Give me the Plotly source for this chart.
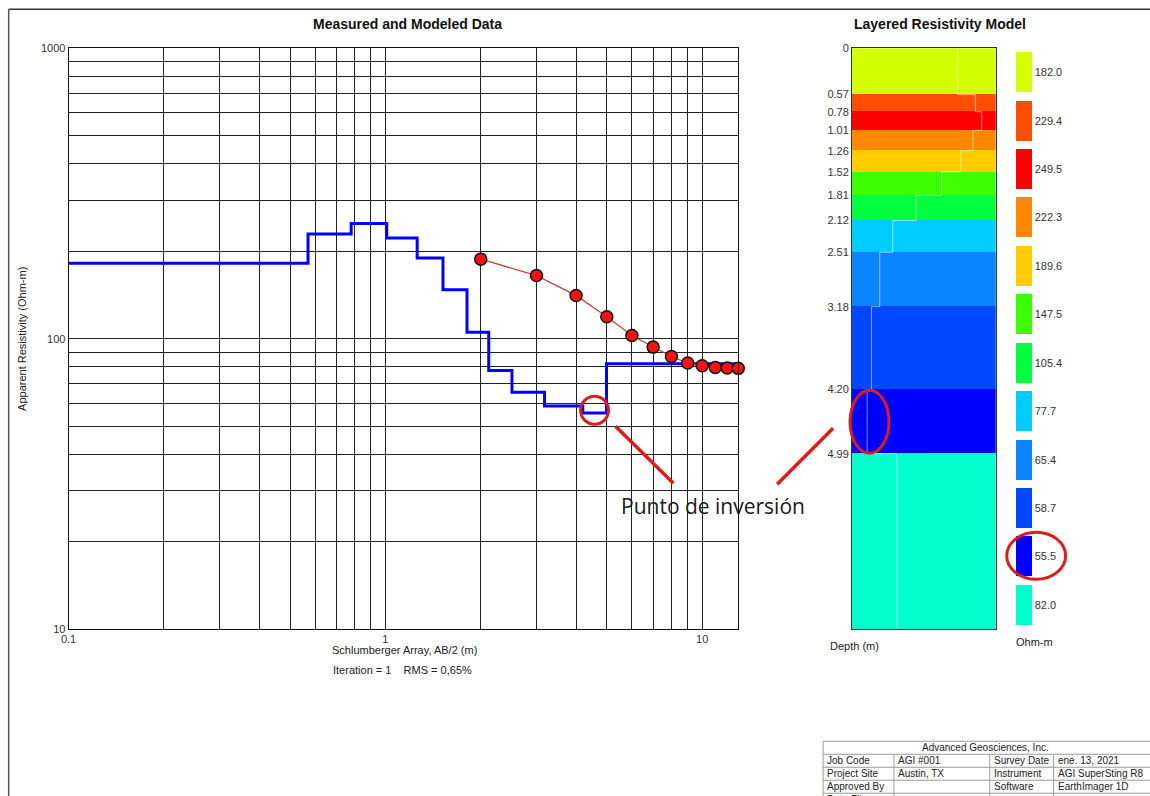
import math
import plotly.graph_objects as go

W, H = 1150, 796
# measured render correction (page px -> figure px)
AX, SX = 7.3, 0.995
AY, SY = 5.7, 0.985

# ---------------- data ----------------
# Layered model
layer_depths = [0.57, 0.78, 1.01, 1.26, 1.52, 1.81, 2.12, 2.51, 3.18, 4.20, 4.99]
layer_res = [182.0, 229.4, 249.5, 222.3, 189.6, 147.5, 105.4, 77.7, 65.4, 58.7, 55.5, 82.0]
layer_colors = ["#d4ff00", "#ff4d00", "#ff0000", "#ff8800", "#ffcc00", "#3cff00",
                "#00ff3c", "#00ccff", "#0a84ff", "#0048ff", "#0000ff", "#00ffcc"]
depth_bottom = 7.15

# Measured apparent resistivity
ab2 = [2, 3, 4, 5, 6, 7, 8, 9, 10, 11, 12, 13]
app_res = [188, 165, 141, 119, 102.6, 93.6, 86.9, 82.5, 80.8, 79.7, 79.3, 79.1]

x_min, x_max = 0.1, 13.0
y_min, y_max = 10, 1000

x_major = [0.1, 1, 10]
y_major = [10, 100, 1000]

table_rows = [
    ["Job Code", "AGI #001", "Survey Date", "ene. 13, 2021"],
    ["Project Site", "Austin, TX", "Instrument", "AGI SuperSting R8"],
    ["Approved By", "", "Software", "EarthImager 1D"],
    ["Data File", "", "", ""],
]


def px(x):
    return ((x - AX) / SX) / W


def py(y):
    return 1 - ((y - AY) / SY) / H


FONT = "Liberation Sans, Arial, sans-serif"

fig = go.Figure()

# ---------------- left chart ----------------
plot_l, plot_r, plot_t, plot_b = 68, 739, 48, 629

x_grid = []
for d in [0.1, 1, 10]:
    for m in range(1, 10):
        v = round(d * m, 3)
        if x_min <= v <= x_max:
            x_grid.append(v)
y_grid = []
for d in [10, 100]:
    for m in range(1, 10):
        y_grid.append(d * m)
y_grid.append(1000)


def fmt(v):
    return ("%g" % v)


step_x = [x_min] + layer_depths + [x_max]
step_y = layer_res + [layer_res[-1]]

fig.add_trace(go.Scatter(
    x=step_x, y=step_y, mode="lines", line=dict(color="#0000ff", width=3, shape="hv"),
    xaxis="x", yaxis="y", showlegend=False, hoverinfo="skip"))

fig.add_trace(go.Scatter(
    x=ab2, y=app_res, mode="lines+markers",
    line=dict(color="#c8413c", width=1.3),
    marker=dict(color="#ff1010", size=12, line=dict(color="#111111", width=1.5)),
    xaxis="x", yaxis="y", showlegend=False, cliponaxis=False))

# ---------------- layered model column ----------------
col_l, col_r = 853, 997
tops = [0] + layer_depths
bots = layer_depths + [depth_bottom]
mids = [(a + b) / 2 for a, b in zip(tops, bots)]
thick = [b - a for a, b in zip(tops, bots)]

fig.add_trace(go.Bar(
    x=[1] * len(layer_res), y=mids, width=thick, base=0, orientation="h",
    marker=dict(color=layer_colors, line=dict(width=0)),
    xaxis="x2", yaxis="y2", showlegend=False, hoverinfo="skip"))

fig.add_trace(go.Scatter(
    x=layer_res + [layer_res[-1]], y=[0] + layer_depths + [depth_bottom],
    mode="lines", line=dict(color="rgba(255,255,255,0.55)", width=1, shape="vh"),
    xaxis="x3", yaxis="y2", showlegend=False, hoverinfo="skip"))

# ---------------- colour legend ----------------
leg_l, leg_r = 1017, 1117
fig.add_trace(go.Bar(
    x=[1] * len(layer_res), y=list(range(len(layer_res))), orientation="h",
    width=0.826, marker=dict(color=layer_colors, line=dict(width=0)),
    text=["%.1f" % v for v in layer_res], textposition="outside",
    textfont=dict(family=FONT, size=11, color="#333333"),
    cliponaxis=False,
    xaxis="x4", yaxis="y4", showlegend=False, hoverinfo="skip"))

grid_col = "#222222"
tickfont = dict(family=FONT, size=11, color="#333333")

fig.update_layout(
    width=W, height=H, autosize=False,
    margin=dict(l=0, r=0, t=0, b=0),
    paper_bgcolor="white", plot_bgcolor="white",
    bargap=0,
    xaxis=dict(type="log", range=[math.log10(x_min), math.log10(x_max)],
               domain=[px(plot_l), px(plot_r)], anchor="y",
               tickmode="array", tickvals=x_grid,
               ticktext=[fmt(v) if v in x_major else "" for v in x_grid],
               showgrid=True, gridcolor=grid_col, gridwidth=1,
               showline=True, linecolor="#111", linewidth=1, mirror=True,
               ticks="", ticklabelstandoff=0, tickfont=tickfont, zeroline=False),
    yaxis=dict(type="log", range=[math.log10(y_min), math.log10(y_max)],
               domain=[py(plot_b), py(plot_t)], anchor="x",
               tickmode="array", tickvals=y_grid,
               ticktext=[fmt(v) if v in y_major else "" for v in y_grid],
               showgrid=True, gridcolor=grid_col, gridwidth=1,
               showline=True, linecolor="#111", linewidth=1, mirror=True,
               ticks="", ticklabelstandoff=0, tickfont=tickfont, zeroline=False),
    xaxis2=dict(range=[0, 1], domain=[px(col_l), px(col_r)], anchor="y2",
                showgrid=False, showticklabels=False, zeroline=False,
                showline=True, linecolor="#1c3a3a", linewidth=1, mirror=True),
    yaxis2=dict(range=[depth_bottom, 0], domain=[py(plot_b), py(plot_t)], anchor="x2",
                tickmode="array", tickvals=[0] + layer_depths,
                ticktext=["0"] + ["%.2f" % d for d in layer_depths],
                showgrid=False, zeroline=False, ticks="", ticklabelstandoff=0,
                tickfont=tickfont,
                showline=True, linecolor="#1c3a3a", linewidth=1, mirror=True),
    xaxis3=dict(type="log", range=[math.log10(45.5), math.log10(300)],
                overlaying="x2", anchor="y2", visible=False),
    xaxis4=dict(range=[0, 6.25], domain=[px(leg_l), px(leg_r)], anchor="y4",
                visible=False),
    yaxis4=dict(range=[11.5, -0.5], domain=[py(plot_b), py(plot_t)], anchor="x4",
                visible=False),
)

# ---------------- texts ----------------
ann = []


def text(x, y, s, size=11, bold=False, color="#222222", xanchor="center", angle=0, family=FONT):
    ann.append(dict(x=px(x), y=py(y), xref="paper", yref="paper", text=("<b>%s</b>" % s) if bold else s,
                    showarrow=False, xanchor=xanchor, yanchor="middle", textangle=angle,
                    font=dict(family=family, size=size, color=color)))


text(408, 24, "Measured and Modeled Data", size=14, bold=True, color="#111")
text(941, 24, "Layered Resistivity Model", size=14, bold=True, color="#111")
text(22, 339, "Apparent Resistivity (Ohm-m)", size=11, angle=-90)
text(405, 650, "Schlumberger Array, AB/2 (m)", size=11)
text(403, 670, "Iteration = 1    RMS = 0,65%", size=11)
text(855, 646, "Depth (m)", size=11)
text(1036, 642, "Ohm-m", size=11)
text(714, 506, "Punto de inversión", size=21, color="#1a1a1a", family="Open Sans, sans-serif")

# table texts
text(987, 747, "Advanced Geosciences, Inc.", size=10)
col_x = [826, 897, 993, 1057]
row_y = [760.5, 773.5, 786.5, 799]
for r, row in enumerate(table_rows):
    for c, s in enumerate(row):
        if s:
            text(col_x[c], row_y[r], s, size=10, xanchor="left")

shapes = []


def line(x0, y0, x1, y1, color, width):
    shapes.append(dict(type="line", xref="paper", yref="paper", x0=px(x0), y0=py(y0),
                       x1=px(x1), y1=py(y1), line=dict(color=color, width=width)))


def ellipse(x0, y0, x1, y1):
    shapes.append(dict(type="circle", xref="paper", yref="paper", x0=px(x0), y0=py(y0),
                       x1=px(x1), y1=py(y1), line=dict(color="#e01b1b", width=3)))


# page border
line(8, 9, W + 8, 9, "#333", 1.5)
line(8, 9, 8, H + 10, "#555", 1.5)

# red annotations
ellipse(581, 396, 609, 424)
ellipse(851, 390, 890, 453)
ellipse(1008, 532, 1067, 579)
line(616, 426, 674, 483, "#e01b1b", 3.5)
line(834, 428, 778, 484, "#e01b1b", 3.5)

# table lines
tcol = "#9a9a9a"
for yy in [741, 754, 767, 780, 793]:
    line(824, yy, W + 8, yy, tcol, 1)
line(824, 741, 824, H + 10, tcol, 1)
for xx in [895, 991, 1055]:
    line(xx, 754, xx, H + 10, tcol, 1)

fig.update_layout(annotations=ann, shapes=shapes)

fig.write_html("out.html")
